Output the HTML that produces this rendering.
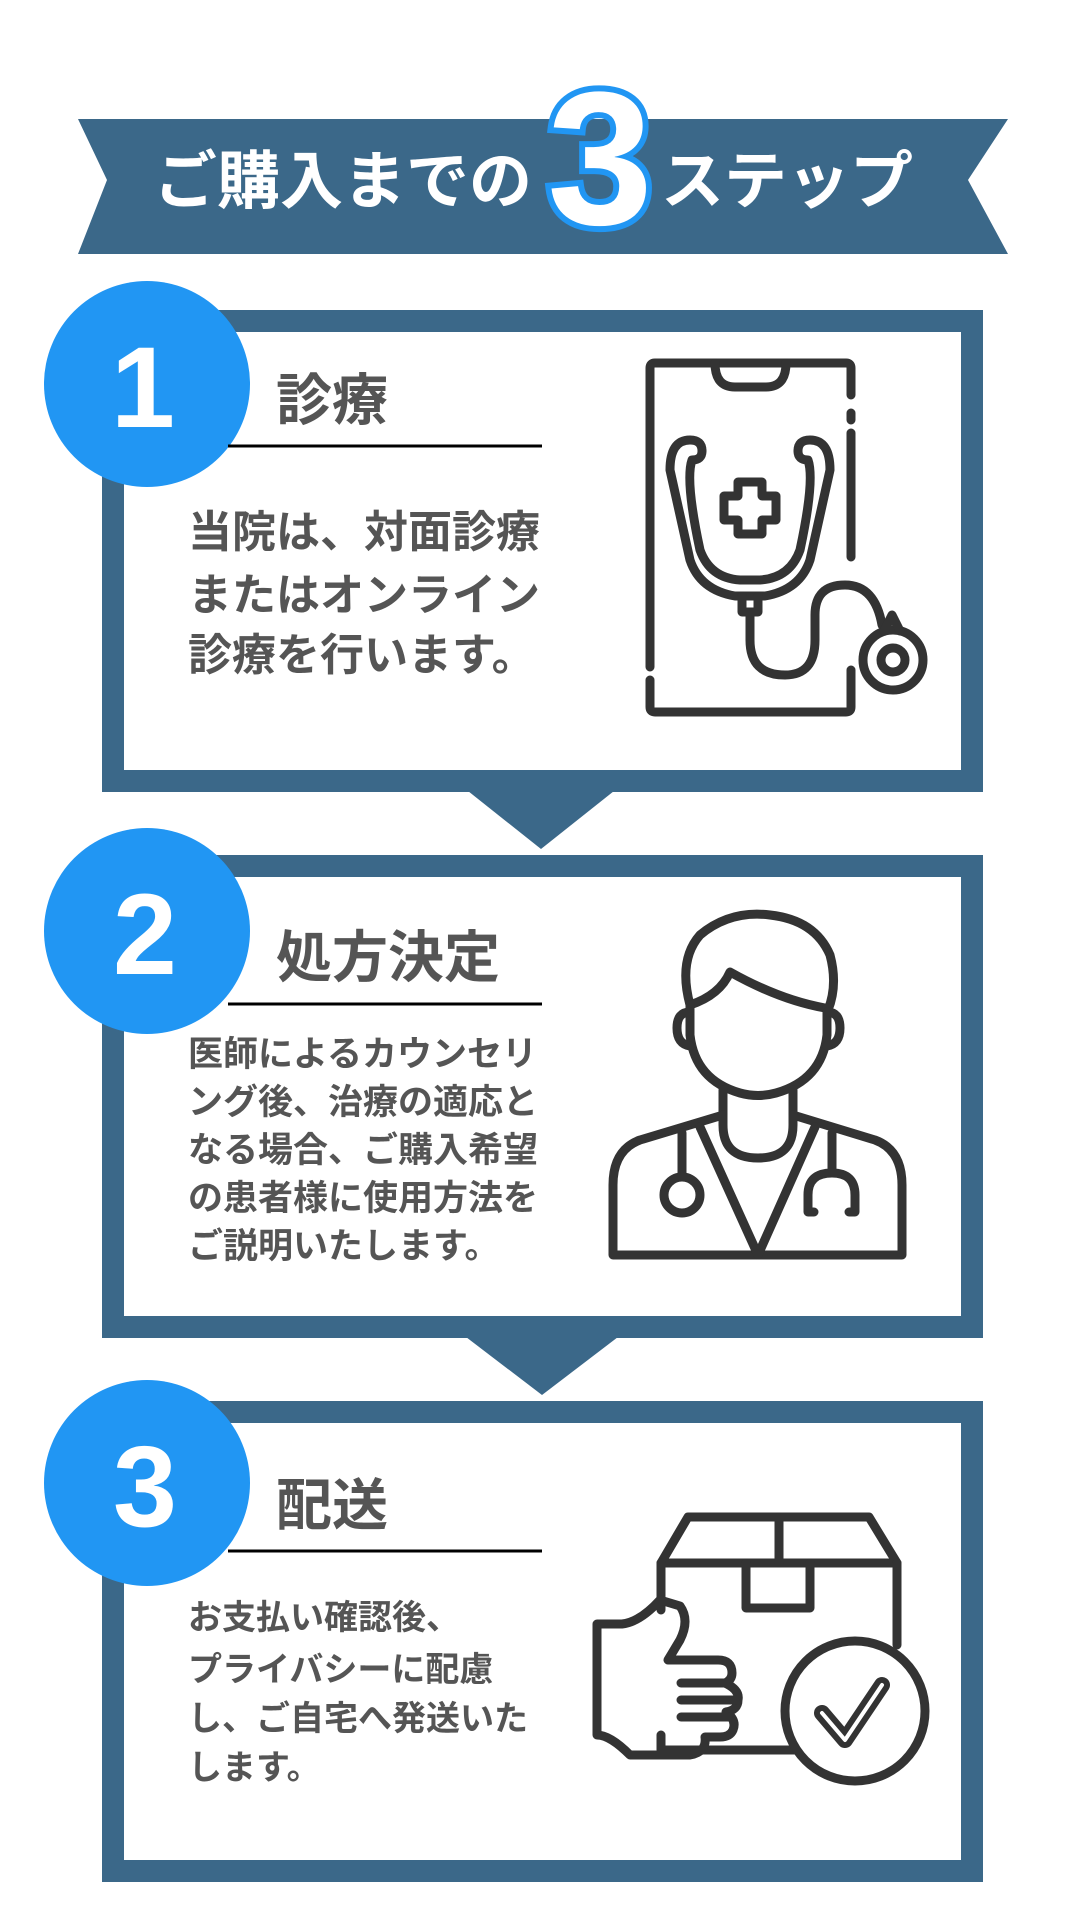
<!DOCTYPE html>
<html><head><meta charset="utf-8"><style>
html,body{margin:0;padding:0;background:#fff;width:1080px;height:1920px;overflow:hidden}
svg{display:block}
.jp{font-family:"Liberation Sans","Noto Sans CJK JP",sans-serif;font-weight:bold}
</style></head><body>
<svg width="1080" height="1920" viewBox="0 0 1080 1920" xmlns="http://www.w3.org/2000/svg">
<rect width="1080" height="1920" fill="#fff"/>
<polygon points="78,119 1008,119 968,180 1008,254 78,254 107,180" fill="#3b6889"/>
<text class="jp" x="154" y="203" font-size="63" fill="#fff">ご購入までの</text>
<text x="600" y="224" text-anchor="middle" font-family="Liberation Sans,sans-serif" font-weight="bold" font-size="190" fill="#fff" stroke="#2196f3" stroke-width="12" paint-order="stroke">3</text>
<text class="jp" x="661" y="203" font-size="63" fill="#fff">ステップ</text>

<g fill="none" stroke="#3b6889" stroke-width="22">
<rect x="113" y="321" width="859" height="460"/>
<rect x="113" y="866" width="859" height="461"/>
<rect x="113" y="1412" width="859" height="459"/>
</g>
<polygon points="468,791 614,791 541,849" fill="#3b6889"/>
<polygon points="466,1337 618,1337 542,1395" fill="#3b6889"/>

<g fill="#2196f3"><circle cx="147" cy="384" r="103"/><circle cx="147" cy="931" r="103"/><circle cx="147" cy="1483" r="103"/></g>
<g font-family="Liberation Sans,sans-serif" font-weight="bold" font-size="115" fill="#fff" text-anchor="middle">
<text x="143" y="427">1</text><text x="145" y="974">2</text><text x="145" y="1526">3</text></g>

<g class="jp" font-size="56" fill="#555">
<text x="276" y="420">診療</text>
<text x="276" y="977">処方決定</text>
<text x="276" y="1525">配送</text>
</g>
<g stroke="#000" stroke-width="3"><line x1="228" y1="446" x2="542" y2="446"/><line x1="228" y1="1004" x2="542" y2="1004"/><line x1="228" y1="1551" x2="542" y2="1551"/></g>

<g class="jp" fill="#555">
<g font-size="44"><text x="188" y="547">当院は、対面診療</text><text x="188" y="610">またはオンライン</text><text x="188" y="670">診療を行います。</text></g>
<g font-size="35"><text x="188" y="1066">医師によるカウンセリ</text><text x="188" y="1114">ング後、治療の適応と</text><text x="188" y="1162">なる場合、ご購入希望</text><text x="188" y="1210">の患者様に使用方法を</text><text x="188" y="1258">ご説明いたします。</text></g>
<g font-size="34"><text x="188" y="1629">お支払い確認後、</text><text x="188" y="1681">プライバシーに配慮</text><text x="188" y="1730">し、ご自宅へ発送いた</text><text x="188" y="1779">します。</text></g>
</g>

<g fill="none" stroke="#333" stroke-width="9" stroke-linecap="round" stroke-linejoin="round">
<path d="M851,395 V368 Q851,363 846,363 H655 Q650,363 650,368 V667"/>
<path d="M650,680 V707 Q650,712 655,712 H846 Q851,712 851,707 V670"/>
<path d="M851,413 V420 M851,433 V557"/>
<path d="M715,363 Q715,387 735,387 H766 Q786,387 786,363"/>
<path d="M702,451 Q702,440 690,440 Q670,440 670,470 L690,560 Q700,590 735,596 H765 Q800,590 810,560 L830,470 Q830,440 810,440 Q798,440 798,451"/>
<path d="M702,451 Q702,460 692,460 Q685,480 700,550 Q710,578 740,580 H760 Q790,578 800,550 Q815,480 808,460 Q798,460 798,451"/>
<path d="M738,482 H762 V496 H776 V520 H762 V534 H738 V520 H724 V496 H738 Z"/>
<path d="M742,596 V612 H758 V596 M750,612 V640 Q750,675 785,675 Q815,675 815,640 V615 Q815,585 845,585 Q875,585 882,625"/>
<circle cx="893" cy="660" r="30"/><circle cx="893" cy="660" r="12"/>
<path d="M884,631 L892,615 L900,631"/>
</g>

<g fill="none" stroke="#333" stroke-width="9" stroke-linecap="round" stroke-linejoin="round">
<path d="M690,1005 Q678,960 700,935 Q730,910 770,915 Q815,920 830,955 Q838,985 828,1010"/>
<path d="M690,1005 Q720,995 730,972 Q780,1000 825,1008"/>
<path d="M690,1005 V1035 Q695,1080 740,1093 Q758,1098 776,1093 Q822,1080 827,1035 V1008"/>
<path d="M690,1012 Q677,1012 677,1028 Q677,1044 690,1046 M827,1012 Q840,1012 840,1028 Q840,1044 827,1046"/>
<path d="M723,1090 V1115 L640,1140 Q613,1150 613,1185 V1255 H902 V1185 Q902,1150 875,1140 L793,1115 V1090"/>
<path d="M723,1115 V1125 Q723,1158 758,1158 Q793,1158 793,1125 V1115"/>
<path d="M700,1127 L758,1255 L815,1127"/>
<path d="M682,1133 V1177"/><circle cx="682" cy="1195" r="18"/>
<path d="M832,1133 V1173 Q808,1173 808,1195 V1212 H814 M832,1173 Q855,1173 855,1195 V1212 H849"/>
</g>

<g fill="none" stroke="#333" stroke-width="9" stroke-linecap="round" stroke-linejoin="round">
<path d="M688,1517 H869 L897,1563 H661 Z"/>
<path d="M779,1517 V1563"/>
<path d="M746,1563 V1608 H810 V1563"/>
<path d="M661,1563 V1610 M897,1563 V1645 M661,1735 V1750 H796"/>
<path d="M597,1624 H622 Q640,1622 660,1600 L680,1606 Q690,1620 680,1640 L668,1660 H718 Q732,1660 732,1673 Q732,1680 725,1683 Q740,1690 738,1700 Q738,1710 726,1712 Q737,1720 733,1730 Q730,1737 720,1737 H705 Q707,1752 690,1755 H630 Q610,1735 597,1735 Z"/>
<path d="M681,1683 H725 M681,1700 H735 M681,1717 H728"/>
<circle cx="855" cy="1711" r="70"/>
<path d="M822,1713 L845,1740 L882,1685" stroke-width="16"/>
<path d="M822,1713 L845,1740 L882,1685" stroke="#fff" stroke-width="4"/>
</g>
</svg>
</body></html>
